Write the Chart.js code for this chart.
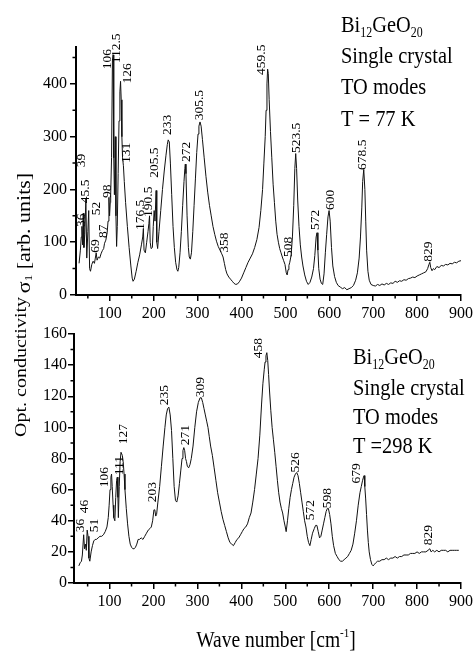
<!DOCTYPE html>
<html>
<head>
<meta charset="utf-8">
<script src="https://cdn.jsdelivr.net/npm/chart.js@4.4.1/dist/chart.umd.min.js"></script>
<style>
  html, body { margin: 0; padding: 0; background: #fff; }
  #wrap { position: relative; width: 476px; height: 659px; }
  #wrap canvas { position: absolute; left: 0; top: 0; }
</style>
</head>
<body>
<div id="wrap">
  <canvas id="top-chart" width="476" height="659"></canvas>
  <canvas id="bottom-chart" width="476" height="659"></canvas>
</div>
<script>
// --- 77 K spectrum (top panel) ---
const TOP_WN = [30,33,35,36.5,38,39.5,41,43,45.5,47.5,50,52,54,56,59,62,65,67,69,71,74,77,80,83,86,88,91,94,96,98,99.5,101,102,104,106,107.5,109,110.5,112.5,114,115.5,117,119,121,123,124.5,126,127.5,129,131,133,136,140,144,148,151,153,156,160,164,168,172,175,176.5,178,181,184,187,189,190.5,192,194,197,199,201,203,205.5,207,209,212,216,220,224,228,231,233,235.5,238,241,244,247,250,253,255,257,260,263,266,269,271,272,273.5,276,279,281,283.5,286,289,292,295,298,301,303,305.5,308,311,315,319,323,327,331,335,339,343,347,351,355,358,361,364,367,371,375,379,383,387,391,395,400,405,410,415,420,425,430,435,440,444,448,451,454,456,458,459.5,461,463,466,469,472,475,478,481,484,487,490,493,496,499,502,504,506,508,510,513,516,519,521.5,523.5,525.5,528,531,534,537,540,544,548,552,556,560,564,567,570,572,574,576,579,582,585,588,591,594,597,599.5,602,605,608,612,616,620,625,630,635,640,645,650,655,660,664,668,671,674,676,678.5,681,683,685,688,691,695,700,705,710,715,720,725,730,735,740,745,750,755,760,765,770,775,780,785,790,795,800,805,810,815,820,824,827,829,831,834,837,840,845,850,855,860,865,870,875,880,885,890,895,900];
const TOP_SIGMA = [60,85,110,130,95,155,90,115,182,70,120,160,50,45,58,64,60,70,80,66,72,70,78,84,88,98,104,118,140,185,150,175,190,260,445,455,260,190,300,150,92,130,230,330,385,405,370,300,260,245,215,175,130,90,55,32,26,30,45,62,76,95,110,126,85,80,100,120,135,150,100,88,90,130,160,140,198,100,88,120,160,200,235,265,285,294,290,250,190,130,90,62,48,45,52,80,120,170,215,240,248,230,150,90,72,68,80,120,170,220,270,305,320,328,320,295,260,225,195,170,150,130,115,102,92,85,78,72,60,48,40,34,30,26,22,20,21,25,32,42,52,62,70,78,90,105,128,160,200,250,300,350,400,428,420,370,310,260,210,175,140,115,100,88,80,72,65,58,42,38,48,56,62,75,110,170,240,268,240,180,130,95,72,55,38,26,20,24,34,50,75,110,118,85,50,30,22,20,40,80,115,148,160,140,90,55,35,24,18,15,12,14,10,12,14,18,28,42,70,110,165,215,238,200,140,85,45,28,20,18,17,20,18,21,19,22,20,23,22,26,24,27,26,29,28,31,32,34,33,36,38,40,42,44,50,58,62,52,46,50,48,54,52,56,55,58,57,60,59,62,61,64,65];

// --- 298 K spectrum (bottom panel) ---
const BOT_WN = [30,33,36,38,41,43,45,47,49,51,53,55,58,61,64,67,70,74,78,82,86,90,94,97,99,101,103,104.5,106,108,109.5,112,114,116,117.5,119,120,122,124,126,129,131,133,135,138,141,144,147,150,153,156,159,162,165,168,172,176,180,184,188,192,195,198,201,203,205,207,210,214,218,222,226,229,232,235,238,241,244,247,250,253,256,259,262,265,267,269,271,273,275,277,280,283,286,290,294,298,302,306,309,312,315,318,321,324,327,330,334,338,342,346,350,354,358,362,366,370,374,378,382,386,390,394,398,402,406,410,414,418,422,426,430,434,438,442,446,449,452,454,456,458,460,462,464,467,470,473,476,479,482,485,488,491,494,497,500,502,505,508,511,514,517,520,523,526,529,532,535,538,541,544,547,550,553,556,559,562,566,569,572,575,578,581,584,587,590,593,596,598,601,604,607,610,614,618,622,626,630,634,638,642,646,650,654,658,662,666,670,673,676,678,679.5,681,683,685,687,689,691,694,697,700,703,706,710,715,720,725,730,735,740,745,750,755,760,765,770,775,780,785,790,795,800,805,810,815,820,825,829,832,836,840,845,850,855,860,865,870,875,880,885,890,895,900];
const BOT_COND = [11,13,14,18,31,22,25,21,34,30,16,14,20,24,27,28,28,29,30,30,31,33,36,42,50,60,68,70,62,50,42,40,55,66,68,55,42,62,78,84,82,78,70,60,48,38,30,25,23,22,22,23,25,28,28,29,28,30,32,34,35,36,40,47,47,43,44,52,62,75,88,100,108,112,113,108,98,80,62,53,52,56,64,72,80,85,87,85,80,78,75,74,76,80,88,100,110,116,119,119,116,112,108,104,100,94,88,82,74,66,58,52,46,41,37,33,29,26,25,24,26,28,29,31,33,35,36,38,42,45,52,60,70,80,95,115,128,137,142,146,148,143,134,124,111,100,92,84,75,66,58,52,48,45,40,36,33,40,48,55,60,64,68,70,71,69,64,58,52,46,40,36,30,26,24,28,32,35,37,37,33,29,30,34,38,42,46,48,48,44,38,30,24,19,17,15,14,14,15,16,17,19,21,25,32,40,50,58,62,66,68,69,62,54,44,34,26,20,15,12,11,12,13,14,14,15,15,16,15,16,16,17,16,17,17,18,18,18,19,19,19,20,19,20,20,20,21,22,20,21,20,21,20,21,21,21,20,21,21,21,21,21];

// axis ticks
const X_TICKS = [100, 200, 300, 400, 500, 600, 700, 800, 900];
const X_MINOR = [50, 150, 250, 350, 450, 550, 650, 750, 850];
const TOP_Y_TICKS = [0, 100, 200, 300, 400];
const TOP_Y_MINOR = [50, 150, 250, 350, 450];
const BOT_Y_TICKS = [0, 20, 40, 60, 80, 100, 120, 140, 160];
const BOT_Y_MINOR = [10, 30, 50, 70, 90, 110, 130, 150];

// peak labels: text, where the label sits (wave number, value at its lower end)
const TOP_PEAK_TEXT = ['36', '39', '45.5', '52', '69', '87', '98', '106', '112.5', '126', '131', '176.5', '190.5', '205.5', '233', '272', '305.5', '358', '459.5', '508', '523.5', '572', '600', '678.5', '829'];
const TOP_PEAK_X = [35.6, 37, 45.4, 70, 68, 86.4, 96.6, 95.5, 116, 142, 140, 172, 188.7, 204, 232.6, 276.3, 306.5, 361.6, 446.5, 507.2, 526, 568.6, 603.4, 677.8, 828];
const TOP_PEAK_Y = [129, 242, 174, 151, 80, 108, 184, 428, 439, 401, 250, 123, 148, 222, 303, 252, 331, 80, 417, 72, 269, 123, 161, 237, 63];

const BOT_PEAK_TEXT = ['36', '46', '51', '106', '111', '127', '203', '235', '271', '309', '458', '526', '572', '598', '679', '829'];
const BOT_PEAK_X = [35.6, 45, 67.7, 89.8, 123.5, 133.5, 198.5, 227, 274.5, 308.6, 439.4, 524.7, 558.8, 596.6, 664, 828];
const BOT_PEAK_Y = [32.6, 44.8, 32.6, 61.6, 69.2, 89.2, 51.9, 114.2, 88.5, 119.3, 144.4, 71, 40.3, 48, 64, 24.2];

const FONT = '"Liberation Serif", "Times New Roman", serif';
const SQUEEZE = 0.85;

function drawRuns(ctx, runs, x, y, rotated, align) {
    ctx.save();
    ctx.translate(x, y);
    ctx.scale(SQUEEZE, 1);
    if (rotated) ctx.rotate(-Math.PI / 2);
    ctx.fillStyle = '#000';
    ctx.textAlign = 'left';
    ctx.textBaseline = rotated ? 'middle' : 'alphabetic';
    let total = 0;
    runs.forEach(r => {
        ctx.font = `${r.size}px ${FONT}`;
        r.w = ctx.measureText(r.text).width;
        total += r.w;
    });
    let cx = align === 'center' ? -total / 2 : 0;
    runs.forEach(r => {
        ctx.font = `${r.size}px ${FONT}`;
        ctx.fillText(r.text, cx, r.dy || 0);
        cx += r.w;
    });
    ctx.restore();
}

function panelDecor(cfg) {
    return {
        id: 'panelDecor',
        afterDraw(chart) {
            const ctx = chart.ctx;
            const xs = chart.scales.x;
            const ys = chart.scales.y;
            const area = chart.chartArea;

            // minor ticks
            ctx.save();
            ctx.strokeStyle = '#000';
            ctx.lineWidth = 1.5;
            ctx.beginPath();
            cfg.xMinor.forEach(v => {
                const px = xs.getPixelForValue(v);
                if (px < area.left) return;
                ctx.moveTo(px, area.bottom);
                ctx.lineTo(px, area.bottom + 3.5);
            });
            cfg.yMinor.forEach(v => {
                const py = ys.getPixelForValue(v);
                ctx.moveTo(area.left, py);
                ctx.lineTo(area.left - 3.5, py);
            });
            ctx.stroke();
            ctx.restore();

            cfg.peakText.forEach((t, i) => {
                drawRuns(ctx, [{ text: t, size: 13.5 }],
                    xs.getPixelForValue(cfg.peakX[i]), ys.getPixelForValue(cfg.peakY[i]), true, 'left');
            });
            cfg.notes.forEach(n => drawRuns(ctx, n.runs, n.x, n.y, n.rotated, n.align));
        }
    };
}

function buildChart(id, wn, vals, opts) {
    const ctx = document.getElementById(id);
    return new Chart(ctx, {
        type: 'scatter',
        data: {
            datasets: [{
                data: wn.map((x, i) => ({ x: x, y: vals[i] })),
                showLine: true,
                borderColor: '#111',
                borderWidth: 1,
                pointRadius: 0,
                tension: 0
            }]
        },
        options: {
            responsive: false,
            animation: false,
            devicePixelRatio: 1,
            events: [],
            layout: { padding: opts.padding },
            plugins: {
                legend: { display: false },
                tooltip: { enabled: false }
            },
            scales: {
                x: {
                    type: 'linear',
                    min: opts.xMin,
                    max: 900,
                    afterBuildTicks: s => { s.ticks = X_TICKS.map(v => ({ value: v })); },
                    afterFit: s => { s.height = 30; },
                    ticks: {
                        color: '#000',
                        font: { family: FONT, size: 16 },
                        padding: 3,
                        maxRotation: 0,
                        autoSkip: false
                    },
                    grid: { drawOnChartArea: false, tickLength: 6, color: '#000', lineWidth: 1.5 },
                    border: { color: '#000', width: 2 }
                },
                y: {
                    min: 0,
                    max: opts.yMax,
                    afterBuildTicks: s => { s.ticks = opts.yTicks.map(v => ({ value: v })); },
                    afterFit: s => { s.width = opts.yWidth; },
                    ticks: {
                        color: '#000',
                        font: { family: FONT, size: 16 },
                        padding: opts.yPad
                    },
                    grid: { drawOnChartArea: false, tickLength: 6, color: '#000', lineWidth: 1.5 },
                    border: { color: '#000', width: 2 }
                }
            }
        },
        plugins: [panelDecor(opts.decor)]
    });
}

buildChart('top-chart', TOP_WN, TOP_SIGMA, {
    padding: { top: 47, right: 14, bottom: 334, left: 0 },
    xMin: 23,
    yMax: 470,
    yTicks: TOP_Y_TICKS,
    yWidth: 76,
    yPad: 3,
    decor: {
        xMinor: X_MINOR,
        yMinor: TOP_Y_MINOR,
        peakText: TOP_PEAK_TEXT,
        peakX: TOP_PEAK_X,
        peakY: TOP_PEAK_Y,
        notes: [
            { x: 341, y: 32, runs: [{ text: 'Bi', size: 24 }, { text: '12', size: 14, dy: 5 }, { text: 'GeO', size: 24 }, { text: '20', size: 14, dy: 5 }] },
            { x: 341, y: 63, runs: [{ text: 'Single crystal', size: 24 }] },
            { x: 341, y: 94, runs: [{ text: 'TO modes', size: 24 }] },
            { x: 341, y: 126, runs: [{ text: 'T = 77 K', size: 24 }] },
            { x: 25, y: 233, rotated: true, align: 'center',
              runs: [{ text: 'σ', size: 22 }, { text: '1', size: 13, dy: 5 }, { text: ' [arb. units]', size: 22 }] }
        ]
    }
});

buildChart('bottom-chart', BOT_WN, BOT_COND, {
    padding: { top: 334, right: 14, bottom: 46, left: 0 },
    xMin: 19,
    yMax: 160,
    yTicks: BOT_Y_TICKS,
    yWidth: 74,
    yPad: 1,
    decor: {
        xMinor: X_MINOR,
        yMinor: BOT_Y_MINOR,
        peakText: BOT_PEAK_TEXT,
        peakX: BOT_PEAK_X,
        peakY: BOT_PEAK_Y,
        notes: [
            { x: 353, y: 364, runs: [{ text: 'Bi', size: 24 }, { text: '12', size: 14, dy: 5 }, { text: 'GeO', size: 24 }, { text: '20', size: 14, dy: 5 }] },
            { x: 353, y: 395, runs: [{ text: 'Single crystal', size: 24 }] },
            { x: 353, y: 424, runs: [{ text: 'TO modes', size: 24 }] },
            { x: 353, y: 453, runs: [{ text: 'T =298 K', size: 24 }] },
            { x: 22, y: 367, rotated: true, align: 'center', runs: [{ text: 'Opt. conductivity', size: 20 }] },
            { x: 276, y: 647, align: 'center',
              runs: [{ text: 'Wave number [cm', size: 23 }, { text: '-1', size: 13, dy: -10 }, { text: ']', size: 23 }] }
        ]
    }
});
</script>
</body>
</html>
